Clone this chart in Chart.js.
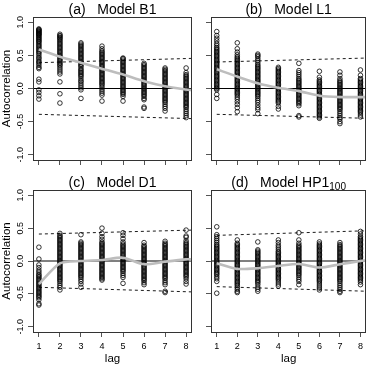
<!DOCTYPE html>
<html><head><meta charset="utf-8">
<script src="https://cdn.jsdelivr.net/npm/chart.js@4.4.1/dist/chart.umd.min.js"></script>
<style>
html,body{margin:0;padding:0;background:#fff;}
#wrap{position:relative;width:371px;height:367px;overflow:hidden;background:#fff;}
#wrap canvas{position:absolute;left:0;top:0;}
</style>
</head><body>
<div id="wrap">
<canvas id="cA" width="371" height="367"></canvas>
<canvas id="cB" width="371" height="367"></canvas>
<canvas id="cC" width="371" height="367"></canvas>
<canvas id="cD" width="371" height="367"></canvas>
</div>
<script>
// ---------------- data ----------------
const lags = [1, 2, 3, 4, 5, 6, 7, 8];
const xTickLabels = ['1', '2', '3', '4', '5', '6', '7', '8'];
const yTickValues = [-1, -0.5, 0, 0.5, 1];
const yTickLabels = ['-1.0', '-0.5', '0.0', '0.5', '1.0'];
const xRange = [0.72, 8.28];
const yRange = [-1.08, 1.08];

// Model B1: simulated autocorrelations, one list per lag
const acfB1 = [
  [0.90,0.89,0.88,0.87,0.86,0.85,0.84,0.83,0.82,0.81,0.80,0.78,0.77,0.75,0.74,0.72,0.71,0.69,0.67,0.65,0.63,0.61,0.59,0.57,0.55,0.53,0.50,0.47,0.45,0.42,0.40,0.38,0.35,0.32,0.30,0.14,0.10,-0.02,-0.06,-0.11,-0.16],
  [0.82,0.80,0.79,0.77,0.76,0.74,0.72,0.70,0.68,0.66,0.64,0.62,0.60,0.58,0.56,0.54,0.52,0.50,0.48,0.46,0.44,0.42,0.40,0.38,0.36,0.34,0.31,0.28,0.25,0.22,0.10,-0.08,-0.22],
  [0.69,0.67,0.65,0.63,0.61,0.59,0.57,0.55,0.53,0.51,0.49,0.47,0.45,0.43,0.41,0.39,0.37,0.35,0.33,0.30,0.28,0.26,0.24,0.22,0.20,0.18,0.15,0.12,0.10,0.07,0.04,0.01,-0.02,-0.15],
  [0.64,0.60,0.57,0.55,0.53,0.51,0.49,0.47,0.45,0.43,0.41,0.39,0.37,0.35,0.33,0.31,0.29,0.27,0.25,0.23,0.21,0.19,0.17,0.15,0.13,0.11,0.09,0.07,0.05,0.02,-0.01,-0.04,-0.07,-0.10,-0.19],
  [0.46,0.45,0.43,0.41,0.39,0.37,0.35,0.33,0.31,0.29,0.27,0.25,0.23,0.21,0.19,0.17,0.15,0.13,0.11,0.09,0.07,0.05,0.03,0.01,-0.01,-0.03,-0.05,-0.07,-0.09,-0.12,-0.19],
  [0.38,0.36,0.34,0.32,0.30,0.28,0.26,0.24,0.22,0.20,0.18,0.16,0.14,0.12,0.10,0.08,0.06,0.04,0.02,0.00,-0.02,-0.04,-0.06,-0.08,-0.10,-0.12,-0.15,-0.17,-0.28,-0.30],
  [0.31,0.29,0.27,0.25,0.23,0.21,0.19,0.17,0.15,0.13,0.11,0.09,0.07,0.05,0.03,0.01,-0.01,-0.03,-0.05,-0.07,-0.09,-0.11,-0.13,-0.15,-0.17,-0.19,-0.21,-0.24,-0.27,-0.30,-0.34],
  [0.31,0.24,0.21,0.19,0.17,0.15,0.13,0.11,0.09,0.07,0.05,0.03,0.01,-0.01,-0.03,-0.05,-0.07,-0.09,-0.11,-0.13,-0.15,-0.17,-0.19,-0.21,-0.23,-0.25,-0.27,-0.29,-0.32,-0.35,-0.38,-0.41,-0.44]
];
const meanB1 = [0.59, 0.48, 0.39, 0.30, 0.21, 0.11, 0.035, -0.015, -0.025];
const upperB1 = [0.39, 0.455];
const lowerB1 = [-0.39, -0.455];

// Model L1
const acfL1 = [
  [0.86,0.80,0.76,0.72,0.68,0.65,0.62,0.60,0.58,0.56,0.54,0.52,0.50,0.48,0.46,0.44,0.42,0.40,0.38,0.36,0.34,0.32,0.30,0.28,0.26,0.24,0.22,0.20,0.18,0.16,0.14,0.12,0.10,0.08,0.06,0.04,0.02,0.00,-0.02,-0.09,-0.15],
  [0.69,0.60,0.55,0.51,0.48,0.46,0.44,0.42,0.40,0.38,0.36,0.34,0.32,0.30,0.28,0.26,0.24,0.22,0.20,0.18,0.16,0.14,0.12,0.10,0.08,0.06,0.04,0.02,0.00,-0.02,-0.04,-0.06,-0.08,-0.10,-0.13,-0.16,-0.20,-0.24,-0.29,-0.35],
  [0.52,0.50,0.48,0.45,0.42,0.39,0.36,0.34,0.32,0.30,0.28,0.26,0.24,0.22,0.20,0.18,0.16,0.14,0.12,0.10,0.08,0.06,0.04,0.02,0.00,-0.02,-0.04,-0.06,-0.08,-0.10,-0.12,-0.15,-0.18,-0.21,-0.25,-0.29,-0.32,-0.38],
  [0.32,0.30,0.28,0.26,0.24,0.22,0.20,0.18,0.16,0.14,0.12,0.10,0.08,0.06,0.04,0.02,0.00,-0.02,-0.04,-0.06,-0.08,-0.10,-0.12,-0.14,-0.16,-0.18,-0.20,-0.22,-0.27,-0.31],
  [0.38,0.27,0.24,0.21,0.18,0.15,0.13,0.11,0.09,0.07,0.05,0.03,0.01,-0.01,-0.03,-0.05,-0.07,-0.09,-0.11,-0.13,-0.15,-0.17,-0.19,-0.21,-0.23,-0.26,-0.41,-0.43],
  [0.26,0.17,0.13,0.11,0.09,0.07,0.05,0.03,0.01,-0.01,-0.03,-0.05,-0.07,-0.09,-0.11,-0.13,-0.15,-0.17,-0.19,-0.21,-0.23,-0.25,-0.27,-0.29,-0.31,-0.33,-0.35,-0.37,-0.39,-0.41,-0.43,-0.45],
  [0.25,0.20,0.15,0.12,0.10,0.08,0.06,0.04,0.02,0.00,-0.02,-0.04,-0.06,-0.08,-0.10,-0.12,-0.14,-0.16,-0.18,-0.20,-0.22,-0.24,-0.26,-0.28,-0.30,-0.32,-0.35,-0.38,-0.41,-0.44,-0.46,-0.50,-0.53],
  [0.28,0.20,0.15,0.13,0.11,0.09,0.07,0.05,0.03,0.01,-0.01,-0.03,-0.05,-0.07,-0.09,-0.11,-0.13,-0.15,-0.17,-0.19,-0.21,-0.23,-0.25,-0.27,-0.29,-0.31,-0.33,-0.35,-0.37,-0.40,-0.43]
];
const meanL1 = [0.29, 0.18, 0.08, 0.01, -0.04, -0.11, -0.13, -0.13, -0.13];
const upperL1 = [0.40, 0.46];
const lowerL1 = [-0.39, -0.45];

// Model D1
const acfD1 = [
  [0.21,0.03,-0.06,-0.10,-0.14,-0.17,-0.20,-0.22,-0.24,-0.26,-0.28,-0.30,-0.32,-0.34,-0.36,-0.38,-0.40,-0.42,-0.44,-0.46,-0.48,-0.50,-0.52,-0.54,-0.56,-0.59,-0.65,-0.67],
  [0.42,0.39,0.37,0.35,0.33,0.31,0.29,0.27,0.25,0.23,0.21,0.19,0.17,0.15,0.13,0.11,0.09,0.07,0.05,0.03,0.01,-0.01,-0.03,-0.05,-0.07,-0.09,-0.11,-0.13,-0.15,-0.17,-0.19,-0.21,-0.23,-0.25,-0.27,-0.29,-0.31,-0.34,-0.37,-0.40,-0.44],
  [0.40,0.29,0.27,0.25,0.23,0.21,0.19,0.17,0.15,0.13,0.11,0.09,0.07,0.05,0.03,0.01,-0.01,-0.03,-0.05,-0.07,-0.09,-0.11,-0.13,-0.15,-0.17,-0.19,-0.21,-0.23,-0.25,-0.28,-0.31,-0.35,-0.40],
  [0.50,0.42,0.37,0.33,0.29,0.27,0.25,0.23,0.21,0.19,0.17,0.15,0.13,0.11,0.09,0.07,0.05,0.03,0.01,-0.01,-0.03,-0.05,-0.07,-0.09,-0.11,-0.13,-0.15,-0.17,-0.19,-0.21,-0.23,-0.25,-0.27,-0.29],
  [0.43,0.39,0.34,0.29,0.26,0.24,0.22,0.20,0.18,0.16,0.14,0.12,0.10,0.08,0.06,0.04,0.02,0.00,-0.02,-0.04,-0.06,-0.08,-0.10,-0.12,-0.14,-0.16,-0.19,-0.22,-0.25,-0.34],
  [0.28,0.24,0.22,0.20,0.18,0.16,0.14,0.12,0.10,0.08,0.06,0.04,0.02,0.00,-0.02,-0.04,-0.06,-0.08,-0.10,-0.12,-0.14,-0.16,-0.18,-0.20,-0.22,-0.24,-0.26,-0.28,-0.30,-0.33,-0.36],
  [0.30,0.27,0.25,0.23,0.21,0.19,0.17,0.15,0.13,0.11,0.09,0.07,0.05,0.03,0.01,-0.01,-0.03,-0.05,-0.07,-0.09,-0.11,-0.13,-0.15,-0.17,-0.19,-0.21,-0.23,-0.25,-0.27,-0.30,-0.33,-0.36,-0.46,-0.48],
  [0.47,0.38,0.36,0.31,0.28,0.26,0.24,0.22,0.20,0.18,0.16,0.14,0.12,0.10,0.08,0.06,0.04,0.02,0.00,-0.02,-0.04,-0.06,-0.08,-0.10,-0.12,-0.14,-0.16,-0.18,-0.20,-0.22,-0.24,-0.27,-0.31,-0.35]
];
const meanD1 = [-0.35, -0.035, 0.0, 0.015, 0.05, -0.05, -0.01, 0.025, 0.025];
const upperD1 = [0.41, 0.47];
const lowerD1 = [-0.40, -0.47];

// Model HP1_100
const acfHP1 = [
  [0.52,0.40,0.37,0.34,0.31,0.28,0.25,0.23,0.21,0.19,0.17,0.15,0.13,0.11,0.09,0.07,0.05,0.03,0.01,-0.01,-0.03,-0.05,-0.07,-0.09,-0.11,-0.13,-0.15,-0.17,-0.19,-0.21,-0.24,-0.27,-0.31,-0.49],
  [0.32,0.27,0.25,0.23,0.21,0.19,0.17,0.15,0.13,0.11,0.09,0.07,0.05,0.03,0.01,-0.01,-0.03,-0.05,-0.07,-0.09,-0.11,-0.13,-0.15,-0.17,-0.19,-0.21,-0.23,-0.25,-0.27,-0.29,-0.31,-0.33,-0.35,-0.37,-0.40,-0.43,-0.46,-0.48],
  [0.29,0.17,0.15,0.13,0.11,0.09,0.07,0.05,0.03,0.01,-0.01,-0.03,-0.05,-0.07,-0.09,-0.11,-0.13,-0.15,-0.17,-0.19,-0.21,-0.23,-0.25,-0.27,-0.29,-0.31,-0.33,-0.36,-0.40,-0.43,-0.46],
  [0.32,0.28,0.24,0.21,0.18,0.15,0.13,0.11,0.09,0.07,0.05,0.03,0.01,-0.01,-0.03,-0.05,-0.07,-0.09,-0.11,-0.13,-0.15,-0.17,-0.19,-0.21,-0.23,-0.25,-0.27,-0.29,-0.32,-0.35,-0.38],
  [0.43,0.32,0.27,0.24,0.22,0.20,0.18,0.16,0.14,0.12,0.10,0.08,0.06,0.04,0.02,0.00,-0.02,-0.04,-0.06,-0.08,-0.10,-0.12,-0.14,-0.16,-0.18,-0.20,-0.22,-0.25,-0.28,-0.31,-0.36],
  [0.29,0.26,0.24,0.22,0.20,0.18,0.16,0.14,0.12,0.10,0.08,0.06,0.04,0.02,0.00,-0.02,-0.04,-0.06,-0.08,-0.10,-0.12,-0.14,-0.16,-0.18,-0.20,-0.22,-0.24,-0.26,-0.28,-0.30,-0.32,-0.35,-0.38,-0.41,-0.44],
  [0.28,0.25,0.23,0.21,0.19,0.17,0.15,0.13,0.11,0.09,0.07,0.05,0.03,0.01,-0.01,-0.03,-0.05,-0.07,-0.09,-0.11,-0.13,-0.15,-0.17,-0.19,-0.21,-0.23,-0.25,-0.27,-0.29,-0.31,-0.34,-0.37,-0.40,-0.43,-0.46,-0.48],
  [0.45,0.41,0.37,0.35,0.33,0.31,0.29,0.27,0.25,0.23,0.21,0.19,0.17,0.15,0.13,0.11,0.09,0.07,0.05,0.03,0.01,-0.01,-0.03,-0.05,-0.07,-0.09,-0.11,-0.13,-0.15,-0.17,-0.19,-0.21,-0.23,-0.25,-0.27,-0.29,-0.32,-0.36]
];
const meanHP1 = [-0.035, -0.12, -0.11, -0.075, -0.045, -0.10, -0.05, 0.0, 0.01];
const upperHP1 = [0.39, 0.46];
const lowerHP1 = [-0.39, -0.46];

// ---------------- drawing ----------------
const FONT = '"Liberation Sans", Arial, Helvetica, sans-serif';
const W = 371, H = 367, YAXW = 33;

const panels = [
  {id:'cA', tag:'(a)', name:'Model B1', sub:'', acf:acfB1, mean:meanB1, up:upperB1, lo:lowerB1,
   area:{left:33, top:17, right:192, bottom:160}, yLabels:true, xLabels:false},
  {id:'cB', tag:'(b)', name:'Model L1', sub:'', acf:acfL1, mean:meanL1, up:upperL1, lo:lowerL1,
   area:{left:211, top:17, right:370, bottom:160}, yLabels:false, xLabels:false},
  {id:'cC', tag:'(c)', name:'Model D1', sub:'', acf:acfD1, mean:meanD1, up:upperD1, lo:lowerD1,
   area:{left:33, top:190, right:192, bottom:332}, yLabels:true, xLabels:true},
  {id:'cD', tag:'(d)', name:'Model HP1', sub:'100', acf:acfHP1, mean:meanHP1, up:upperHP1, lo:lowerHP1,
   area:{left:211, top:190, right:370, bottom:332}, yLabels:false, xLabels:true}
];

const decor = {
  id: 'decor',
  afterDraw(chart, args, opts) {
    const p = opts.panel;
    const ctx = chart.ctx;
    const ca = chart.chartArea;
    ctx.save();
    // box
    ctx.strokeStyle = '#333';
    ctx.lineWidth = 1;
    ctx.strokeRect(Math.round(ca.left) + 0.5, Math.round(ca.top) + 0.5,
                   Math.round(ca.right - ca.left) - 1, Math.round(ca.bottom - ca.top));
    // title
    ctx.fillStyle = '#000';
    ctx.textBaseline = 'alphabetic';
    ctx.textAlign = 'left';
    const main = p.tag + '   ' + p.name;
    ctx.font = '14px ' + FONT;
    const wMain = ctx.measureText(main).width;
    ctx.font = '10px ' + FONT;
    const wSub = p.sub ? ctx.measureText(p.sub).width : 0;
    const cx = (ca.left + ca.right) / 2;
    const x0 = cx - (wMain + wSub) / 2;
    const by = ca.top - 3.5;
    ctx.font = '14px ' + FONT;
    ctx.fillText(main, x0, by);
    if (p.sub) {
      ctx.font = '10px ' + FONT;
      ctx.fillText(p.sub, x0 + wMain, by + 3.5);
    }
    // rotated y tick labels (R style)
    if (p.yLabels) {
      const ys = chart.scales.y;
      ctx.font = '9px ' + FONT;
      ctx.textAlign = 'center';
      ctx.textBaseline = 'middle';
      yTickValues.forEach((v, i) => {
        const py = ys.getPixelForValue(v);
        ctx.save();
        ctx.translate(ca.left - 12, py);
        ctx.rotate(-Math.PI / 2);
        ctx.fillText(yTickLabels[i], 0, 0);
        ctx.restore();
      });
    }
    ctx.restore();
  }
};

function makeChart(p) {
  const xH = p.xLabels ? 35 : 20;
  const points = [];
  p.acf.forEach((col, i) => col.forEach(v => points.push({x: lags[i], y: v})));
  const meanPts = lags.map((l, i) => ({x: l, y: p.mean[i]}));
  meanPts.push({x: xRange[1], y: p.mean[8]});
  const upPts = [{x: lags[0], y: p.up[0]}, {x: xRange[1], y: p.up[1]}];
  const loPts = [{x: lags[0], y: p.lo[0]}, {x: xRange[1], y: p.lo[1]}];
  const zeroPts = [{x: xRange[0], y: 0}, {x: xRange[1], y: 0}];

  return new Chart(document.getElementById(p.id), {
    type: 'scatter',
    data: {
      datasets: [
        {type:'line', data: meanPts, borderColor:'#bdbdbd', borderWidth:2.6, pointRadius:0, fill:false, tension:0.25, order:1},
        {type:'line', data: upPts, borderColor:'#000', borderWidth:0.9, borderDash:[3,3], pointRadius:0, fill:false, order:2},
        {type:'line', data: loPts, borderColor:'#000', borderWidth:0.9, borderDash:[3,3], pointRadius:0, fill:false, order:3},
        {type:'line', data: zeroPts, borderColor:'#000', borderWidth:1, pointRadius:0, fill:false, order:4},
        {type:'scatter', data: points, pointStyle:'circle', pointRadius:2.3, borderWidth:0.8,
         borderColor:'#000', backgroundColor:'rgba(0,0,0,0)', order:5}
      ]
    },
    options: {
      responsive: false,
      animation: false,
      events: [],
      layout: {padding: {left: p.area.left - YAXW, top: p.area.top, right: W - p.area.right, bottom: H - p.area.bottom - xH}},
      plugins: {legend:{display:false}, tooltip:{enabled:false}, title:{display:false}, decor:{panel:p}},
      scales: {
        x: {
          type:'linear', min:xRange[0], max:xRange[1],
          afterBuildTicks: s => { s.ticks = lags.map(v => ({value: v})); },
          afterFit: s => { s.height = xH; },
          border: {display:false},
          grid: {drawOnChartArea:false, drawTicks:true, tickLength:5, color:'#555', lineWidth:1},
          ticks: {display:p.xLabels, font:{size:9, family:FONT}, color:'#000', padding:4, maxRotation:0,
                  callback: (v) => xTickLabels[lags.indexOf(v)]},
          title: {display:p.xLabels, text:'lag', font:{size:11.5, family:FONT}, color:'#000', padding:{top:0, bottom:1}}
        },
        y: {
          type:'linear', min:yRange[0], max:yRange[1],
          afterBuildTicks: s => { s.ticks = yTickValues.map(v => ({value: v})); },
          afterFit: s => { s.width = YAXW; },
          border: {display:false},
          grid: {drawOnChartArea:false, drawTicks:true, tickLength:5, color:'#555', lineWidth:1},
          ticks: {display:false},
          title: {display:p.yLabels, text:'Autocorrelation', font:{size:11.5, family:FONT}, color:'#000', padding:{top:0, bottom:0}}
        }
      }
    },
    plugins: [decor]
  });
}

panels.forEach(makeChart);
</script>
</body></html>
